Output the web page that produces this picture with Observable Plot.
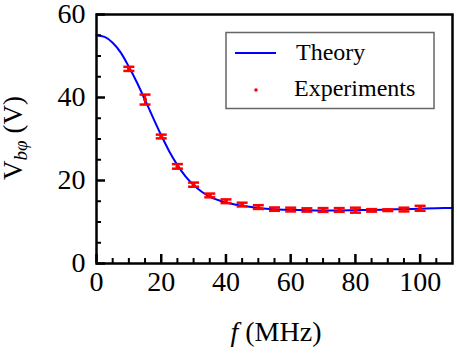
<!DOCTYPE html>
<html><head><meta charset="utf-8">
<script src="https://cdn.jsdelivr.net/npm/d3@7"></script>
<script src="https://cdn.jsdelivr.net/npm/@observablehq/plot@0.6"></script>
<style>
body{margin:0;background:#fff;}
#wrap{position:relative;width:457px;height:360px;}
</style></head><body><div id="wrap"></div>
<script>
// Experimental data (MHz, V, ± error)
const expF = [10,15,20,25,30,35,40,45,50,55,60,65,70,75,80,85,90,95,100];
const expV = [46.9,39.5,30.6,23.4,19.0,16.4,15.0,14.2,13.6,13.1,13.0,12.9,12.9,12.9,12.85,12.8,12.85,13.0,13.3];
const expE = [0.5,1.2,0.45,0.55,0.5,0.45,0.45,0.45,0.45,0.4,0.45,0.4,0.45,0.45,0.6,0.3,0.2,0.45,0.6];
// Theory curve samples
const theoryF = [0,2.5,5,7.5,10,12.5,15,17.5,20,22.5,25,27.5,30,32.5,35,40,45,50,55,60,65,70,75,80,85,90,95,100,105,110];
const theoryV = [55.0,54.6,53.2,50.8,47.4,43.6,39.4,35.1,30.9,27.0,23.7,21.0,18.9,17.3,16.1,14.7,13.9,13.4,13.1,12.95,12.85,12.8,12.8,12.85,12.9,13.0,13.1,13.2,13.3,13.4];
const xMajor = [0,20,40,60,80,100];
const xMinor = [5,10,15,25,30,35,45,50,55,65,70,75,85,90,95,105];
const yMajor = [0,20,40,60];
const yMinor = [5,10,15,25,30,35,45,50,55];

const exp = expF.map((f,i)=>({f, v: expV[i], e: expE[i]}));
const theory = theoryF.map((f,i)=>({f, v: theoryV[i]}));

const cap = {draw(ctx, size){ const r = Math.sqrt(size/Math.PI); ctx.moveTo(-r,0); ctx.lineTo(r,0); }};

const FONT = '"Liberation Serif", "Times New Roman", serif';
const W = 457, H = 360, mL = 96, mR = 5, mT = 14, mB = 97;
const pw = W - mL - mR, ph = H - mT - mB;

const svg = Plot.plot({
  width: W, height: H,
  marginLeft: mL, marginRight: mR, marginTop: mT, marginBottom: mB,
  style: {fontFamily: FONT, fontSize: "28px", background: "white", color: "black"},
  x: {domain: [0,110]},
  y: {domain: [0,60]},
  marks: [
    Plot.line(theory, {x: "f", y: "v", stroke: "#0000ff", strokeWidth: 2, curve: "monotone-x"}),
    Plot.ruleX(exp, {x: "f", y1: d=>d.v-d.e, y2: d=>d.v+d.e, stroke: "#ff0000", strokeWidth: 2.2}),
    Plot.dot(exp, {x: "f", y: d=>d.v-d.e, symbol: cap, r: 5.5, stroke: "#ff0000", fill: "none", strokeWidth: 2.5}),
    Plot.dot(exp, {x: "f", y: d=>d.v+d.e, symbol: cap, r: 5.5, stroke: "#ff0000", fill: "none", strokeWidth: 2.5}),
    Plot.dot(exp, {x: "f", y: "v", r: 2, fill: "#ff0000"}),
    Plot.tickX(xMajor, {x: d=>d, insetTop: ph - 9, stroke: "black", strokeWidth: 2.5}),
    Plot.tickX(xMinor, {x: d=>d, insetTop: ph - 5, stroke: "black", strokeWidth: 2}),
    Plot.tickY(yMajor, {y: d=>d, insetRight: pw - 9, stroke: "black", strokeWidth: 2.5}),
    Plot.tickY(yMinor, {y: d=>d, insetRight: pw - 5, stroke: "black", strokeWidth: 2}),
    Plot.axisX({ticks: xMajor, tickSize: 0, tickPadding: 8, fontSize: 28, fontFamily: FONT, fontVariant: "normal", label: null}),
    Plot.axisY({ticks: yMajor, tickSize: 0, tickPadding: 11, fontSize: 28, fontFamily: FONT, fontVariant: "normal", label: null}),
    Plot.frame({stroke: "black", strokeWidth: 2.5})
  ]
});
svg.style.fontFamily = FONT;

const s = d3.select(svg);
// Axis titles
const xt = s.append("text").attr("x", 276).attr("y", 341).attr("text-anchor", "middle")
  .attr("font-family", FONT).attr("font-size", 28).attr("fill", "black");
xt.append("tspan").attr("font-style", "italic").text("f");
xt.append("tspan").text(" (MHz)");

const yt = s.append("text").attr("transform", "translate(22,138) rotate(-90)").attr("text-anchor", "middle")
  .attr("font-family", FONT).attr("font-size", 27).attr("fill", "black");
yt.append("tspan").text("V");
yt.append("tspan").attr("font-style", "italic").attr("font-size", 19).attr("dy", 5).text("bφ");
yt.append("tspan").attr("dy", -5).text(" (V)");

// Legend
const lg = s.append("g").attr("text-anchor", "start");
lg.append("rect").attr("x", 226).attr("y", 32.5).attr("width", 208).attr("height", 76)
  .attr("fill", "white").attr("stroke", "#666").attr("stroke-width", 1.5);
lg.append("line").attr("x1", 235).attr("x2", 276).attr("y1", 53).attr("y2", 53)
  .attr("stroke", "#0000ff").attr("stroke-width", 2);
lg.append("circle").attr("cx", 256).attr("cy", 90).attr("r", 1.8).attr("fill", "#ff0000");
lg.append("text").attr("x", 296).attr("y", 59.5).attr("text-anchor", "start").attr("font-family", FONT).attr("font-size", 24).attr("fill", "black").text("Theory");
lg.append("text").attr("x", 294).attr("y", 95.5).attr("text-anchor", "start").attr("font-family", FONT).attr("font-size", 24).attr("fill", "black").text("Experiments");

document.getElementById("wrap").appendChild(svg);
</script>
</body></html>
